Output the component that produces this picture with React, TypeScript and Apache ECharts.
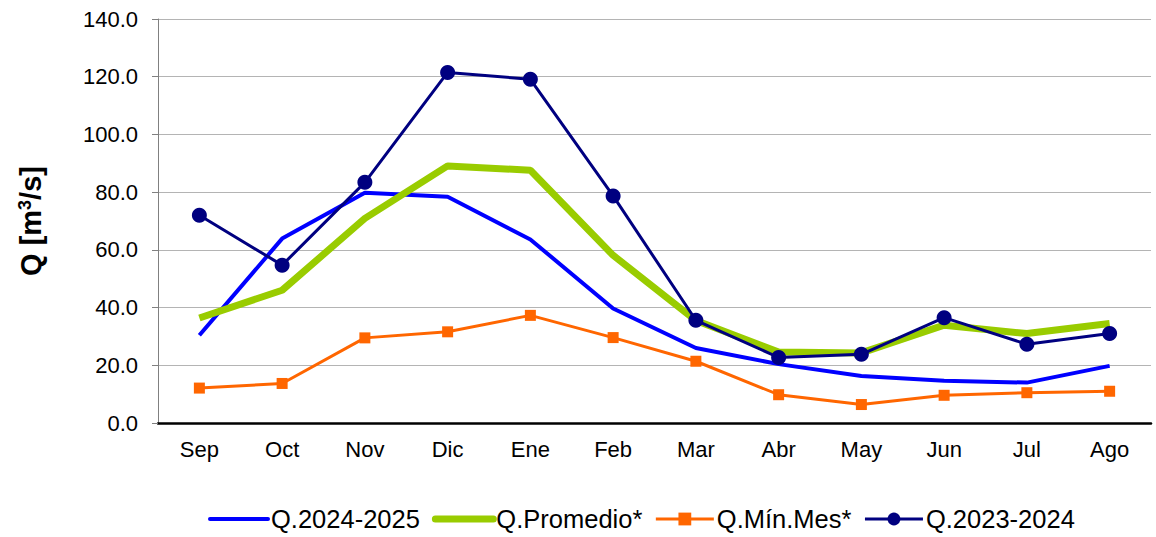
import React, { useEffect, useRef } from "react";
import * as echarts from "echarts";

const months = ["Sep", "Oct", "Nov", "Dic", "Ene", "Feb", "Mar", "Abr", "May", "Jun", "Jul", "Ago"];
const q2425 = [30.4, 63.9, 79.8, 78.4, 63.6, 39.7, 26.0, 20.4, 16.3, 14.6, 14.0, 19.8];
const qProm = [36.4, 46.0, 70.9, 89.1, 87.6, 58.1, 35.5, 24.6, 24.3, 33.9, 31.0, 34.5];
const qMin = [12.1, 13.7, 29.5, 31.6, 37.3, 29.6, 21.4, 9.8, 6.4, 9.6, 10.5, 11.0];
const q2324 = [72.0, 54.7, 83.4, 121.5, 119.1, 78.7, 35.6, 22.7, 23.8, 36.5, 27.3, 31.0];

const FONT = "Liberation Sans, Arial, sans-serif";

export default function App() {
  const ref = useRef<HTMLDivElement>(null);
  useEffect(() => {
    if (!ref.current) return;
    const chart = echarts.init(ref.current, null, { renderer: "svg" });
    chart.setOption({
      animation: false,
      backgroundColor: "#ffffff",
      textStyle: { fontFamily: FONT },
      grid: { left: 158, right: 5, top: 19, bottom: 114, containLabel: false },
      legend: {
        bottom: 0,
        left: 203,
        itemWidth: 58,
        itemHeight: 16,
        itemGap: 12,
        textStyle: { fontSize: 25.5, color: "#000", fontFamily: FONT, padding: [0, 0, 0, -2] },
        data: [
          { name: "Q.2024-2025", itemStyle: { opacity: 0 }, lineStyle: { width: 4, color: "#0000ff", cap: "round" } },
          { name: "Q.Promedio*", itemStyle: { opacity: 0 }, lineStyle: { width: 7, color: "#99cc00", cap: "round" } },
          { name: "Q.Mín.Mes*", lineStyle: { width: 3, color: "#ff6600" } },
          { name: "Q.2023-2024", lineStyle: { width: 3, color: "#000080" } },
        ],
      },
      xAxis: {
        type: "category",
        data: months,
        boundaryGap: true,
        axisLine: { lineStyle: { color: "#000", width: 2.5 } },
        axisTick: { inside: true, length: 7, lineStyle: { color: "#000", width: 2 } },
        axisLabel: { fontSize: 22, color: "#000", margin: 15, fontFamily: FONT },
        splitLine: { show: false },
      },
      yAxis: {
        type: "value",
        min: 0,
        max: 140,
        interval: 20,
        name: "{q|Q [m}{sup|3}{q|/s]}",
        nameLocation: "middle",
        nameRotate: 90,
        nameGap: 112,
        nameTextStyle: {
          rich: {
            q: { fontSize: 29, fontWeight: "bold", color: "#000", fontFamily: FONT },
            sup: { fontSize: 18, fontWeight: "bold", color: "#000", fontFamily: FONT, verticalAlign: "top", padding: [0, 0, 12, 0] },
          },
        },
        axisLine: { show: true, lineStyle: { color: "#808080", width: 1 } },
        axisTick: { show: true, length: 6, lineStyle: { color: "#808080" } },
        axisLabel: {
          fontSize: 22,
          color: "#000",
          margin: 20,
          fontFamily: FONT,
          formatter: (v: number) => v.toFixed(1),
        },
        splitLine: { lineStyle: { color: "#b4b4b4", width: 1.2 } },
      },
      series: [
        {
          name: "Q.2024-2025",
          type: "line",
          data: q2425,
          symbol: "none",
          lineStyle: { color: "#0000ff", width: 4 },
          itemStyle: { color: "#0000ff" },
        },
        {
          name: "Q.Promedio*",
          type: "line",
          data: qProm,
          symbol: "none",
          lineStyle: { color: "#99cc00", width: 7 },
          itemStyle: { color: "#99cc00" },
        },
        {
          name: "Q.Mín.Mes*",
          type: "line",
          data: qMin,
          symbol: "rect",
          symbolSize: 11,
          lineStyle: { color: "#ff6600", width: 3 },
          itemStyle: { color: "#ff6600" },
        },
        {
          name: "Q.2023-2024",
          type: "line",
          data: q2324,
          symbol: "circle",
          symbolSize: 15,
          lineStyle: { color: "#000080", width: 3 },
          itemStyle: { color: "#000080" },
        },
      ],
    });
    return () => chart.dispose();
  }, []);
  return <div ref={ref} style={{ width: 1156, height: 537, position: "absolute", left: 0, top: 0 }} />;
}
